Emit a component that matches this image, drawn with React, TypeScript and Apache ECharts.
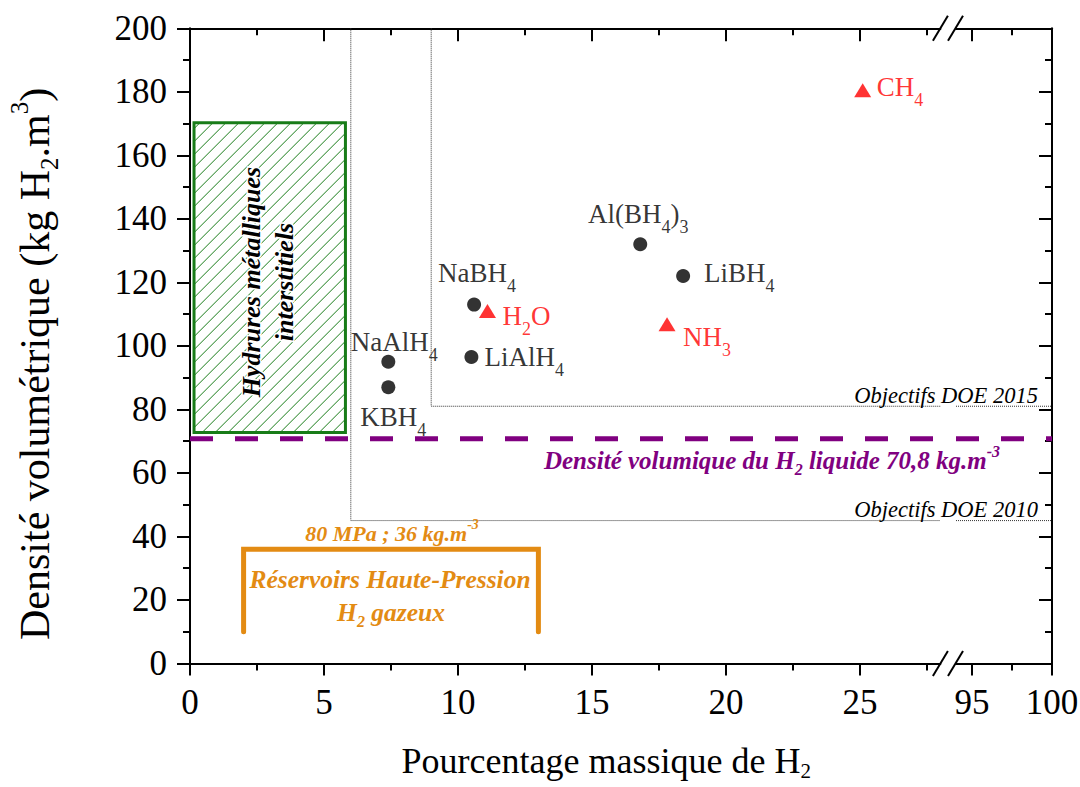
import React, { useEffect, useRef } from "react";
import * as echarts from "echarts";

// ---------------- data ----------------
const hydrideNames = ["NaAlH4", "KBH4", "NaBH4", "LiAlH4", "Al(BH4)3", "LiBH4"];
const hydrideMassPct = [7.4, 7.4, 10.6, 10.5, 16.8, 18.4];
const hydrideDensity = [95, 87, 113, 96.5, 132, 122];

const moleculeNames = ["H2O", "NH3", "CH4"];
const moleculeMassPct = [11.1, 17.8, 25.1];
const moleculeDensity = [111, 106.8, 180.5];

const doeTargetLabels = ["Objectifs DOE 2010", "Objectifs DOE 2015"];
const doeTargetMassPct = [6, 9];
const doeTargetDensity = [45, 81];

const liquidH2Density = 70.8;

const interstitialMassRange = [0.15, 5.8];
const interstitialDensityRange = [72.7, 170.3];

const tankMassRange = [2, 13];
const tankDensityRange = [10, 36];

const xRangeLeft = [0, 28];
const xRangeRight = [94, 100];
const xMajorLeft = [0, 5, 10, 15, 20, 25];
const xMinorLeft = [2.5, 7.5, 12.5, 17.5, 22.5, 27.5];
const xMajorRight = [95, 100];
const xMinorRight = [97.5];
const yRange = [0, 200];
const yInterval = 20;

// ---------------- style / layout ----------------
const SERIF = '"Liberation Serif", "Times New Roman", serif';
const GREEN = "#187c18";
const PURPLE = "#800080";
const ORANGE = "#e38b13";
const RED = "#ff0000";
const PLOT_TOP = 28.3;
const PLOT_BOTTOM = 663.5;
const LEFT_X0 = 190;
const LEFT_X1 = 940.4;
const RIGHT_X0 = 956;
const RIGHT_X1 = 1052;

const labelLayout: Record<string, { align: string; dx: number; dy: number }> = {
  NaAlH4: { align: "center", dx: 6, dy: -20 },
  KBH4: { align: "center", dx: 5, dy: 30 },
  NaBH4: { align: "center", dx: 3, dy: -32 },
  LiAlH4: { align: "left", dx: 13, dy: 0 },
  "Al(BH4)3": { align: "center", dx: -2, dy: -30 },
  LiBH4: { align: "left", dx: 21, dy: -3 },
  H2O: { align: "left", dx: 15, dy: 5 },
  NH3: { align: "left", dx: 16, dy: 13 },
  CH4: { align: "left", dx: 14, dy: -3 },
};

function chem(name: string, main: string, sub: string) {
  return name
    .split(/(\d+)/)
    .filter((p) => p.length > 0)
    .map((p) => (/^\d+$/.test(p) ? `{${sub}|${p}}` : `{${main}|${p}}`))
    .join("");
}

const axisLine = { color: "#000", width: 2 };

function xAxisDef(
  gridIndex: number,
  position: string,
  range: number[],
  ticks: number[],
  len: number,
  inside: boolean,
  showLine: boolean,
  labels: number[] | null,
  extra: any = {}
) {
  return {
    type: "value",
    gridIndex,
    position,
    min: range[0],
    max: range[1],
    axisLine: { show: showLine, onZero: false, lineStyle: axisLine },
    axisTick: { show: true, inside, length: len, customValues: ticks, lineStyle: axisLine },
    axisLabel: labels
      ? {
          show: true,
          customValues: labels,
          fontSize: 35,
          fontFamily: SERIF,
          color: "#000",
          margin: 21,
        }
      : { show: false },
    splitLine: { show: false },
    ...extra,
  };
}

function buildOption() {
  const labelRich = (color: string) => ({
    m: { fontSize: 27, fontFamily: SERIF, color, textBorderWidth: 0 },
    s: { fontSize: 18, fontFamily: SERIF, color, textBorderWidth: 0, padding: [26, 0, 0, 0] },
  });

  const pointData = (names: string[], xs: number[], ys: number[], color: string) =>
    names.map((n, i) => {
      const l = labelLayout[n];
      return {
        name: n,
        value: [xs[i], ys[i]],
        label: {
          show: true,
          position: "inside",
          align: l.align,
          verticalAlign: "middle",
          offset: [l.dx, l.dy],
          color,
          textBorderWidth: 0,
          textBorderColor: "transparent",
          formatter: chem(n, "m", "s"),
          rich: labelRich(color),
        },
      };
    });

  const grids = [
    { left: LEFT_X0, top: PLOT_TOP, width: LEFT_X1 - LEFT_X0, height: PLOT_BOTTOM - PLOT_TOP },
    { left: LEFT_X0, top: PLOT_TOP, width: LEFT_X1 - LEFT_X0, height: PLOT_BOTTOM - PLOT_TOP },
    { left: RIGHT_X0, top: PLOT_TOP, width: RIGHT_X1 - RIGHT_X0, height: PLOT_BOTTOM - PLOT_TOP },
    { left: RIGHT_X0, top: PLOT_TOP, width: RIGHT_X1 - RIGHT_X0, height: PLOT_BOTTOM - PLOT_TOP },
  ].map((g) => ({ ...g, outerBoundsMode: "none", containLabel: false, show: false }));

  const xAxes = [
    xAxisDef(0, "bottom", xRangeLeft, xMajorLeft, 12, false, true, xMajorLeft, {
      name: "Pourcentage massique de H{s|2}",
      nameLocation: "middle",
      nameGap: 77,
      nameTextStyle: {
        fontSize: 36,
        fontFamily: SERIF,
        color: "#000",
        padding: [0, 0, 0, 82],
        rich: {
          s: { fontSize: 21, fontFamily: SERIF, color: "#000", padding: [20, 0, 0, 0] },
        },
      },
    }),
    xAxisDef(0, "top", xRangeLeft, xMajorLeft, 13, true, true, null),
    xAxisDef(1, "bottom", xRangeLeft, xMinorLeft, 7, false, false, null),
    xAxisDef(1, "top", xRangeLeft, xMinorLeft, 7, true, false, null),
    xAxisDef(2, "bottom", xRangeRight, xMajorRight, 12, false, true, xMajorRight),
    xAxisDef(2, "top", xRangeRight, xMajorRight, 13, true, true, null),
    xAxisDef(3, "bottom", xRangeRight, xMinorRight, 7, false, false, null),
    xAxisDef(3, "top", xRangeRight, xMinorRight, 7, true, false, null),
  ];

  const yAxes = [
    {
      type: "value",
      gridIndex: 0,
      position: "left",
      min: yRange[0],
      max: yRange[1],
      interval: yInterval,
      axisLine: { show: true, onZero: false, lineStyle: axisLine },
      axisTick: { show: true, inside: false, length: 13, lineStyle: axisLine },
      minorTick: { show: true, splitNumber: 2, length: 7, lineStyle: axisLine },
      axisLabel: { fontSize: 35, fontFamily: SERIF, color: "#000", margin: 23 },
      splitLine: { show: false },
      name: "Densité volumétrique (kg H{s|2}.m{p|3})",
      nameLocation: "middle",
      nameGap: 128,
      nameTextStyle: {
        fontSize: 42,
        fontFamily: SERIF,
        color: "#000",
        padding: [0, 36, 0, 0],
        rich: {
          s: { fontSize: 25, fontFamily: SERIF, color: "#000", padding: [30, 0, 0, 0] },
          p: { fontSize: 25, fontFamily: SERIF, color: "#000", padding: [0, 0, 30, 0] },
        },
      },
    },
    { type: "value", gridIndex: 1, min: yRange[0], max: yRange[1], show: false },
    {
      type: "value",
      gridIndex: 2,
      position: "right",
      min: yRange[0],
      max: yRange[1],
      interval: yInterval,
      axisLine: { show: true, onZero: false, lineStyle: axisLine },
      axisTick: { show: true, inside: true, length: 13, lineStyle: axisLine },
      minorTick: { show: true, splitNumber: 2, length: 7, lineStyle: axisLine },
      axisLabel: { show: false },
      splitLine: { show: false },
    },
    { type: "value", gridIndex: 3, min: yRange[0], max: yRange[1], show: false },
  ];

  const lineCommon = { type: "line", symbol: "none", showSymbol: false, silent: true, animation: false };

  const series: any[] = [];

  // Hatched box: interstitial metal hydrides
  series.push({
    type: "custom",
    name: "Hydrures métalliques interstitiels",
    xAxisIndex: 0,
    yAxisIndex: 0,
    silent: true,
    z: 1,
    encode: { x: [0, 1], y: [2, 3] },
    data: [[interstitialMassRange[0], interstitialMassRange[1], interstitialDensityRange[0], interstitialDensityRange[1]]],
    renderItem: (params: any, api: any) => {
      const p0 = api.coord([api.value(0), api.value(3)]);
      const p1 = api.coord([api.value(1), api.value(2)]);
      const left = p0[0], top = p0[1], right = p1[0], bottom = p1[1];
      const children: any[] = [];
      const step = 13;
      for (let c = left + top + 6; c < right + bottom; c += step) {
        const xa = Math.max(left, c - bottom);
        const xb = Math.min(right, c - top);
        if (xb - xa > 0.5) {
          children.push({
            type: "line",
            shape: { x1: xa, y1: c - xa, x2: xb, y2: c - xb },
            style: { stroke: GREEN, lineWidth: 1 },
          });
        }
      }
      children.push({
        type: "rect",
        shape: { x: left, y: top, width: right - left, height: bottom - top },
        style: { fill: "none", stroke: GREEN, lineWidth: 3 },
      });
      return { type: "group", children };
    },
  });

  // DOE target lines (left and right of the break)
  doeTargetLabels.forEach((lbl, i) => {
    const style = { color: "#333", width: 1, type: "dotted" };
    series.push({
      ...lineCommon,
      name: lbl,
      xAxisIndex: 0,
      yAxisIndex: 0,
      lineStyle: style,
      z: 2,
      data: [
        [doeTargetMassPct[i], yRange[1]],
        [doeTargetMassPct[i], doeTargetDensity[i]],
        [xRangeLeft[1], doeTargetDensity[i]],
      ],
    });
    series.push({
      ...lineCommon,
      name: lbl + " ",
      xAxisIndex: 4,
      yAxisIndex: 2,
      lineStyle: style,
      z: 2,
      data: [
        [xRangeRight[0], doeTargetDensity[i]],
        [xRangeRight[1], doeTargetDensity[i]],
      ],
    });
  });

  // Liquid hydrogen density line
  const purpleStyle = { color: PURPLE, width: 5, type: [23, 22], cap: "butt" };
  series.push({
    ...lineCommon,
    name: "H2 liquide",
    xAxisIndex: 0,
    yAxisIndex: 0,
    z: 3,
    lineStyle: purpleStyle,
    data: [
      [xRangeLeft[0], liquidH2Density],
      [xRangeLeft[1], liquidH2Density],
    ],
  });
  series.push({
    ...lineCommon,
    name: "H2 liquide ",
    xAxisIndex: 4,
    yAxisIndex: 2,
    z: 3,
    lineStyle: purpleStyle,
    data: [
      [xRangeRight[0], liquidH2Density],
      [xRangeRight[1], liquidH2Density],
    ],
  });

  // High-pressure tank bracket
  series.push({
    ...lineCommon,
    name: "Réservoirs Haute-Pression",
    xAxisIndex: 0,
    yAxisIndex: 0,
    z: 3,
    lineStyle: { color: ORANGE, width: 5, cap: "round", join: "miter" },
    data: [
      [tankMassRange[0], tankDensityRange[0]],
      [tankMassRange[0], tankDensityRange[1]],
      [tankMassRange[1], tankDensityRange[1]],
      [tankMassRange[1], tankDensityRange[0]],
    ],
  });

  // Points
  series.push({
    type: "scatter",
    name: "Hydrures",
    xAxisIndex: 0,
    yAxisIndex: 0,
    symbol: "circle",
    symbolSize: 14,
    itemStyle: { color: "#000" },
    z: 5,
    data: pointData(hydrideNames, hydrideMassPct, hydrideDensity, "#000"),
  });
  series.push({
    type: "scatter",
    name: "Molécules",
    xAxisIndex: 0,
    yAxisIndex: 0,
    symbol: "triangle",
    symbolSize: [17, 14],
    itemStyle: { color: RED },
    z: 5,
    data: pointData(moleculeNames, moleculeMassPct, moleculeDensity, RED),
  });

  // Annotations
  const bi = { fontFamily: SERIF, fontWeight: "bold", fontStyle: "italic" };
  const graphics: any[] = [
    {
      type: "text",
      x: 268,
      y: 282,
      rotation: Math.PI / 2,
      z: 50,
      style: {
        text: "Hydrures métalliques\ninterstitiels",
        ...bi,
        fontSize: 26,
        lineHeight: 33,
        fill: "#000",
        stroke: "#fff",
        lineWidth: 3,
        align: "center",
        verticalAlign: "middle",
      },
    },
    {
      type: "text",
      x: 772,
      y: 460,
      z: 50,
      style: {
        text: "Densité volumique du H{s|2} liquide 70,8 kg.m{p|-3}",
        ...bi,
        fontSize: 25,
        fill: PURPLE,
        align: "center",
        verticalAlign: "middle",
        rich: {
          s: { ...bi, fontSize: 16, fill: PURPLE, padding: [18, 0, 0, 0] },
          p: { ...bi, fontSize: 16, fill: PURPLE, padding: [0, 0, 18, 0] },
        },
      },
    },
    {
      type: "text",
      x: 1038,
      y: 395.5,
      z: 50,
      style: {
        text: doeTargetLabels[1],
        fontFamily: SERIF,
        fontStyle: "italic",
        fontSize: 22.5,
        fill: "#000",
        align: "right",
        verticalAlign: "middle",
      },
    },
    {
      type: "text",
      x: 1038,
      y: 509,
      z: 50,
      style: {
        text: doeTargetLabels[0],
        fontFamily: SERIF,
        fontStyle: "italic",
        fontSize: 22.5,
        fill: "#000",
        align: "right",
        verticalAlign: "middle",
      },
    },
    {
      type: "text",
      x: 392,
      y: 533,
      z: 50,
      style: {
        text: "80 MPa ; 36 kg.m{p|-3}",
        ...bi,
        fontSize: 22,
        fill: ORANGE,
        align: "center",
        verticalAlign: "middle",
        rich: { p: { ...bi, fontSize: 14, fill: ORANGE, padding: [0, 0, 18, 0] } },
      },
    },
    {
      type: "text",
      x: 390,
      y: 579,
      z: 50,
      style: {
        text: "Réservoirs Haute-Pression",
        ...bi,
        fontSize: 25.5,
        fill: ORANGE,
        align: "center",
        verticalAlign: "middle",
      },
    },
    {
      type: "text",
      x: 391,
      y: 612,
      z: 50,
      style: {
        text: "H{s|2} gazeux",
        ...bi,
        fontSize: 25.5,
        fill: ORANGE,
        align: "center",
        verticalAlign: "middle",
        rich: { s: { ...bi, fontSize: 16, fill: ORANGE, padding: [18, 0, 0, 0] } },
      },
    },
  ];
  // axis break marks
  [PLOT_TOP, PLOT_BOTTOM].forEach((y) => {
    [LEFT_X1, RIGHT_X0 - 0.5].forEach((cx) => {
      graphics.push({
        type: "line",
        z: 60,
        shape: { x1: cx - 7.5, y1: y + 12.5, x2: cx + 7.5, y2: y - 12.5 },
        style: { stroke: "#000", lineWidth: 2 },
      });
    });
  });

  return {
    animation: false,
    backgroundColor: "#fff",
    grid: grids,
    xAxis: xAxes,
    yAxis: yAxes,
    series,
    graphic: graphics,
  };
}

export default function App() {
  const ref = useRef<HTMLDivElement>(null);
  useEffect(() => {
    if (!ref.current) return;
    const chart = echarts.init(ref.current, undefined, { renderer: "svg" });
    chart.setOption(buildOption() as any);
    return () => chart.dispose();
  }, []);
  return (
    <div
      ref={ref}
      style={{ position: "fixed", left: 0, top: 0, width: 1080, height: 787, background: "#fff" }}
    />
  );
}
